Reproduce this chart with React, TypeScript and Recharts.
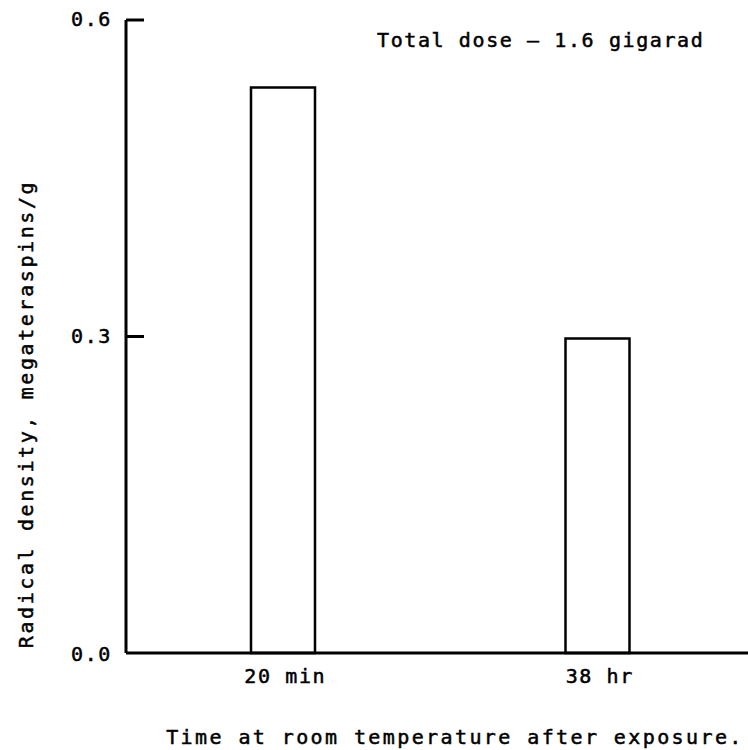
import React from "react";
import { BarChart, Bar, XAxis, YAxis } from "recharts";

const categories = ["20 min", "38 hr"];
const densityValues = [0.536, 0.298];
const yTicks = [0, 0.3, 0.6];
const yTickLabels = ["0.0", "0.3", "0.6"];

const titleText = "Total dose \u2013 1.6 gigarad";
const yLabelText = "Radical density, megateraspins/g";
const xLabelText = "Time at room temperature after exposure.";

const data = categories.map((c, i) => ({ name: c, value: densityValues[i] }));

const FONT = "'DejaVu Sans Mono', monospace";
const FS = 20;
const LS = 1.6;
const textStyle = {
  fontFamily: FONT,
  fontSize: FS,
  fill: "#000",
  stroke: "#000",
  strokeWidth: 0.5,
};

const YTick = (props: any) => {
  const { x, y, payload } = props;
  const idx = yTicks.indexOf(payload.value);
  const label = idx >= 0 ? yTickLabels[idx] : String(payload.value);
  return (
    <g>
      {payload.value !== 0 && (
        <line x1={x} y1={y} x2={x + 18} y2={y} stroke="#000" strokeWidth={3} />
      )}
      <text
        x={x - 14}
        y={y + (payload.value === 0 ? 8 : 6)}
        textAnchor="end"
        letterSpacing={LS}
        {...textStyle}
      >
        {label}
      </text>
    </g>
  );
};

const XTick = (props: any) => {
  const { x, y, payload } = props;
  return (
    <text x={x + 2} y={y + 30} textAnchor="middle" letterSpacing={LS} {...textStyle}>
      {payload.value}
    </text>
  );
};

export default function App() {
  return (
    <div
      style={{
        position: "absolute",
        left: 0,
        top: 0,
        width: 748,
        height: 750,
        overflow: "hidden",
        background: "#fff",
      }}
    >
      <BarChart
        width={760}
        height={750}
        data={data}
        margin={{ top: 20, right: 5, bottom: 0, left: 0 }}
      >
        <XAxis
          dataKey="name"
          height={97}
          tickLine={false}
          tickSize={0}
          tickMargin={0}
          axisLine={{ stroke: "#000", strokeWidth: 3 }}
          tick={<XTick />}
        />
        <YAxis
          width={126}
          domain={[0, 0.6]}
          ticks={yTicks}
          tickLine={false}
          tickSize={0}
          tickMargin={0}
          axisLine={{ stroke: "#000", strokeWidth: 3 }}
          tick={<YTick />}
          interval={0}
        />
        <Bar
          dataKey="value"
          fill="#fff"
          stroke="#000"
          strokeWidth={2.5}
          barSize={64}
          isAnimationActive={false}
        />
        <text x={377} y={47} textAnchor="start" letterSpacing={LS} {...textStyle}>
          {titleText}
        </text>
        <text
          x={33}
          y={414}
          transform="rotate(-90, 33, 414)"
          textAnchor="middle"
          letterSpacing={2.6}
          {...textStyle}
        >
          {yLabelText}
        </text>
        <text x={455} y={744} textAnchor="middle" letterSpacing={2.4} {...textStyle}>
          {xLabelText}
        </text>
      </BarChart>
    </div>
  );
}
